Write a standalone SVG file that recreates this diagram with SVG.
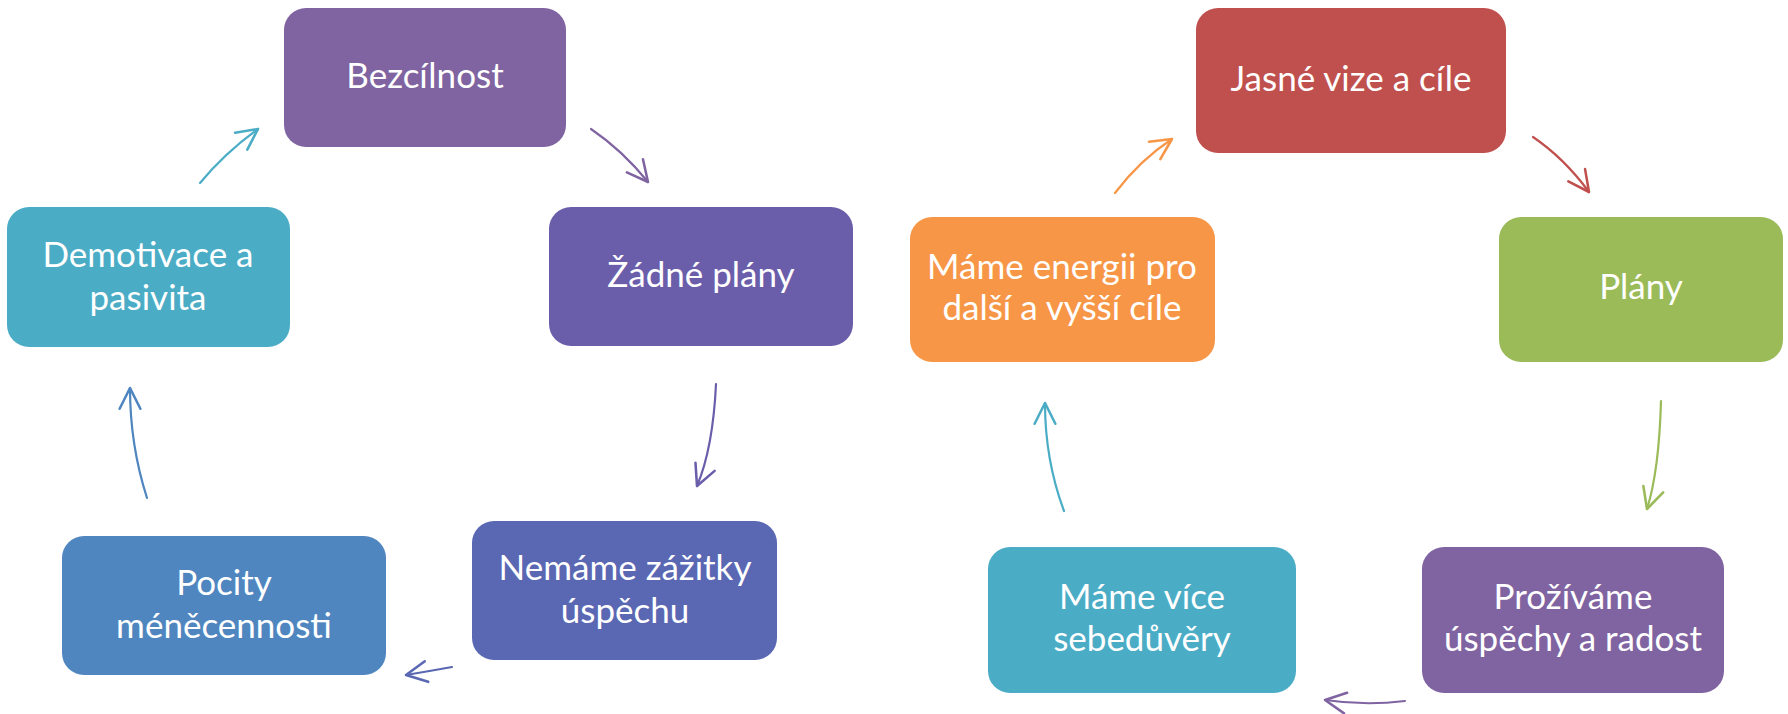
<svg xmlns="http://www.w3.org/2000/svg" width="1788" height="714" viewBox="0 0 1788 714">
<style>
.box{stroke:none}
.t{font-family:Lato,"Open Sans","Liberation Sans",sans-serif;font-size:35px;fill:#ffffff;text-anchor:middle}
.c{fill:none;stroke-width:2.2;stroke-linecap:round}
</style>
<defs>
<marker id="m-cyan" markerUnits="userSpaceOnUse" markerWidth="30" markerHeight="30" refX="0" refY="0" viewBox="-22 -12 26 24" orient="auto" overflow="visible"><path d="M-18,-9 L0,0 L-18,9" fill="none" stroke="#4BACC6" stroke-width="2.2" stroke-linecap="round" stroke-linejoin="round"/></marker>
<marker id="m-purple" markerUnits="userSpaceOnUse" markerWidth="30" markerHeight="30" refX="0" refY="0" viewBox="-22 -12 26 24" orient="auto" overflow="visible"><path d="M-18,-9 L0,0 L-18,9" fill="none" stroke="#8064A2" stroke-width="2.2" stroke-linecap="round" stroke-linejoin="round"/></marker>
<marker id="m-violet" markerUnits="userSpaceOnUse" markerWidth="30" markerHeight="30" refX="0" refY="0" viewBox="-22 -12 26 24" orient="auto" overflow="visible"><path d="M-18,-9 L0,0 L-18,9" fill="none" stroke="#6A5EAB" stroke-width="2.2" stroke-linecap="round" stroke-linejoin="round"/></marker>
<marker id="m-indigo" markerUnits="userSpaceOnUse" markerWidth="30" markerHeight="30" refX="0" refY="0" viewBox="-22 -12 26 24" orient="auto" overflow="visible"><path d="M-18,-9 L0,0 L-18,9" fill="none" stroke="#5A67B3" stroke-width="2.2" stroke-linecap="round" stroke-linejoin="round"/></marker>
<marker id="m-blue" markerUnits="userSpaceOnUse" markerWidth="30" markerHeight="30" refX="0" refY="0" viewBox="-22 -12 26 24" orient="auto" overflow="visible"><path d="M-18,-9 L0,0 L-18,9" fill="none" stroke="#4F86BF" stroke-width="2.2" stroke-linecap="round" stroke-linejoin="round"/></marker>
<marker id="m-orange" markerUnits="userSpaceOnUse" markerWidth="30" markerHeight="30" refX="0" refY="0" viewBox="-22 -12 26 24" orient="auto" overflow="visible"><path d="M-18,-9 L0,0 L-18,9" fill="none" stroke="#F79646" stroke-width="2.2" stroke-linecap="round" stroke-linejoin="round"/></marker>
<marker id="m-red" markerUnits="userSpaceOnUse" markerWidth="30" markerHeight="30" refX="0" refY="0" viewBox="-22 -12 26 24" orient="auto" overflow="visible"><path d="M-18,-9 L0,0 L-18,9" fill="none" stroke="#C0504D" stroke-width="2.2" stroke-linecap="round" stroke-linejoin="round"/></marker>
<marker id="m-green" markerUnits="userSpaceOnUse" markerWidth="30" markerHeight="30" refX="0" refY="0" viewBox="-22 -12 26 24" orient="auto" overflow="visible"><path d="M-18,-9 L0,0 L-18,9" fill="none" stroke="#9BBB59" stroke-width="2.2" stroke-linecap="round" stroke-linejoin="round"/></marker>
</defs>
<rect width="1788" height="714" fill="#ffffff"/>

<g id="connectors">
<path class="c" stroke="#4BACC6" marker-end="url(#m-cyan)" d="M200,183 Q225,153 258,129"/>
<path class="c" stroke="#8064A2" marker-end="url(#m-purple)" d="M591,129 Q622,150 648,182"/>
<path class="c" stroke="#6A5EAB" marker-end="url(#m-violet)" d="M716,384 Q713,448 697,486"/>
<path class="c" stroke="#5A67B3" marker-end="url(#m-indigo)" d="M452,667 Q430,671 406,675"/>
<path class="c" stroke="#4F86BF" marker-end="url(#m-blue)" d="M147,498 Q130,445 130,388"/>
<path class="c" stroke="#F79646" marker-end="url(#m-orange)" d="M1115,193 Q1140,160 1172,139"/>
<path class="c" stroke="#C0504D" marker-end="url(#m-red)" d="M1533,137 Q1564,158 1589,192"/>
<path class="c" stroke="#9BBB59" marker-end="url(#m-green)" d="M1661,401 Q1659,471 1647,509"/>
<path class="c" stroke="#8064A2" marker-end="url(#m-purple)" d="M1405,701 Q1365,706 1325,700"/>
<path class="c" stroke="#4BACC6" marker-end="url(#m-cyan)" d="M1064,511 Q1045,460 1045,403"/>
</g>

<g id="n-bezcilnost"><rect class="box" x="284" y="8" width="282" height="139" rx="22" fill="#8064A2"/><text class="t" x="425" y="88">Bezcílnost</text></g>
<g id="n-zadne-plany"><rect class="box" x="549" y="207" width="304" height="139" rx="22" fill="#6A5EAB"/><text class="t" x="701" y="287">Žádné plány</text></g>
<g id="n-nemame-zazitky"><rect class="box" x="472" y="521" width="305" height="139" rx="22" fill="#5A67B3"/><text class="t" x="625" y="580">Nemáme zážitky</text><text class="t" x="625" y="623">úspěchu</text></g>
<g id="n-pocity"><rect class="box" x="62" y="536" width="324" height="139" rx="22" fill="#4F86BF"/><text class="t" x="224" y="595">Pocity</text><text class="t" x="224" y="638">méněcennosti</text></g>
<g id="n-demotivace"><rect class="box" x="7" y="207" width="283" height="140" rx="22" fill="#4BACC6"/><text class="t" x="148" y="267">Demotivace a</text><text class="t" x="148" y="310">pasivita</text></g>

<g id="n-jasne-vize"><rect class="box" x="1196" y="8" width="310" height="145" rx="22" fill="#C0504D"/><text class="t" x="1351" y="91">Jasné vize a cíle</text></g>
<g id="n-plany"><rect class="box" x="1499" y="217" width="284" height="145" rx="22" fill="#9BBB59"/><text class="t" x="1641" y="299">Plány</text></g>
<g id="n-prozivame"><rect class="box" x="1422" y="547" width="302" height="146" rx="22" fill="#8064A2"/><text class="t" x="1573" y="609">Prožíváme</text><text class="t" x="1573" y="651">úspěchy a radost</text></g>
<g id="n-mame-vice"><rect class="box" x="988" y="547" width="308" height="146" rx="22" fill="#4BACC6"/><text class="t" x="1142" y="609">Máme více</text><text class="t" x="1142" y="651">sebedůvěry</text></g>
<g id="n-mame-energii"><rect class="box" x="910" y="217" width="305" height="145" rx="22" fill="#F79646"/><text class="t" x="1062" y="279">Máme energii pro</text><text class="t" x="1062" y="320">další a vyšší cíle</text></g>
</svg>
